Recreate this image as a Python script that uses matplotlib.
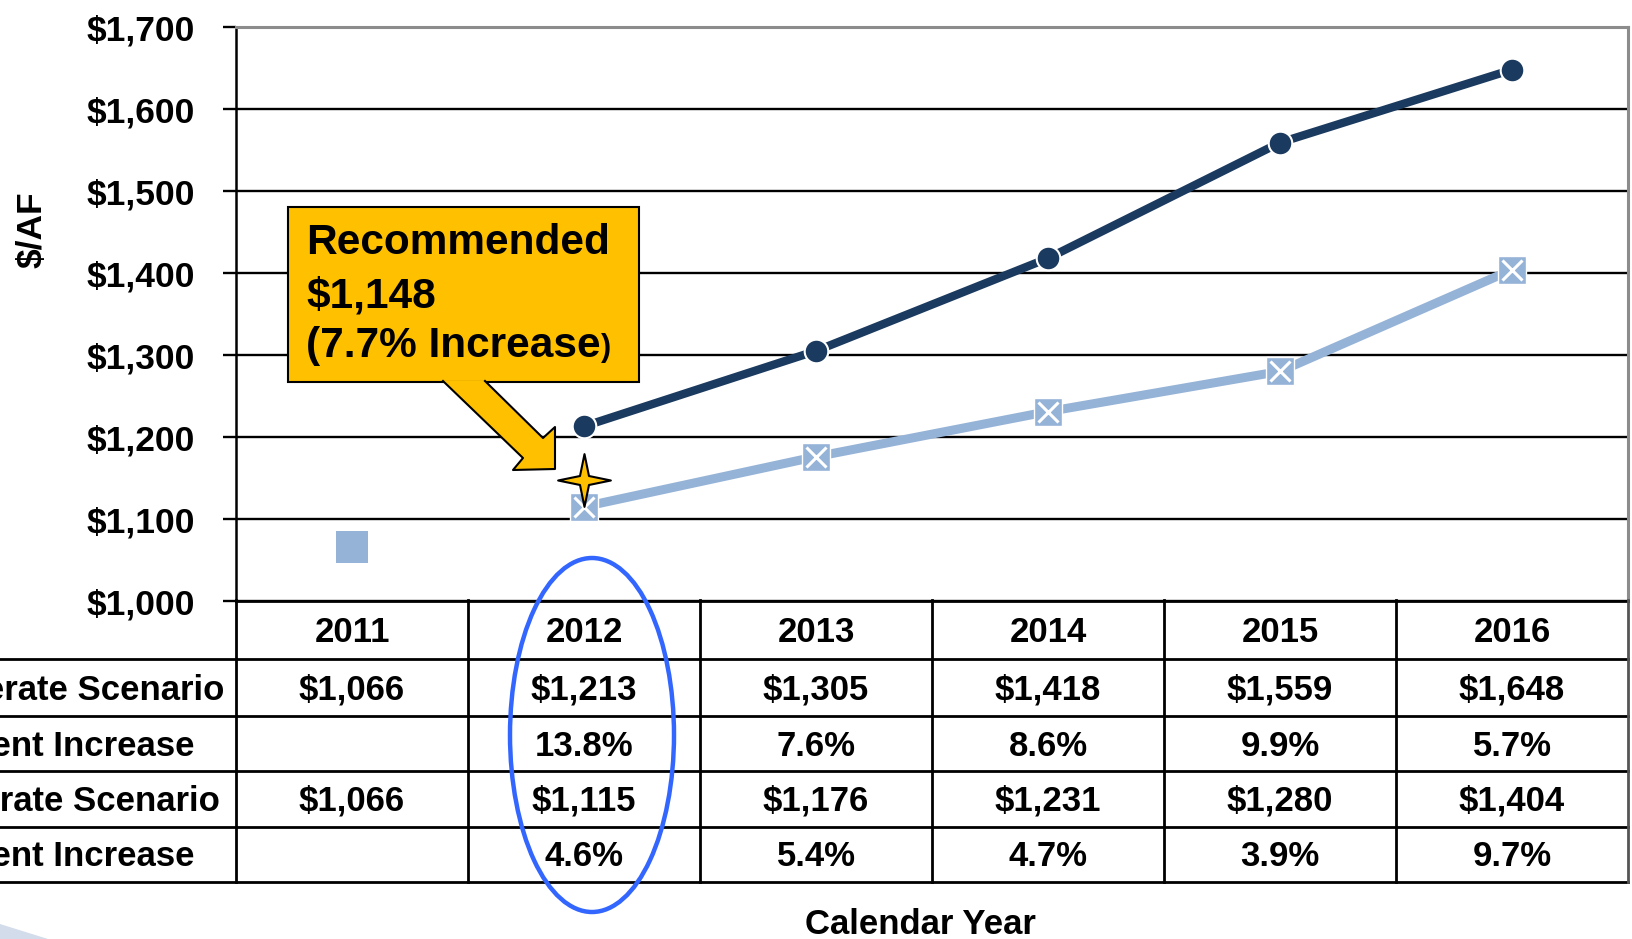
import matplotlib
matplotlib.use("Agg")
import matplotlib.pyplot as plt
from matplotlib.patches import Ellipse, Polygon, Rectangle
from matplotlib.path import Path
from matplotlib.lines import Line2D
from matplotlib.ticker import FuncFormatter
import matplotlib.transforms as mtransforms

# ---------------- data ----------------
years = [2011, 2012, 2013, 2014, 2015, 2016]
high_years = [2012, 2013, 2014, 2015, 2016]
high_values = [1213, 1305, 1418, 1559, 1648]
low_years = [2012, 2013, 2014, 2015, 2016]
low_values = [1115, 1176, 1231, 1280, 1404]
actual_year = [2011]
actual_value = [1066]
rec_year = [2012]
rec_value = [1148]
yticks = [1000, 1100, 1200, 1300, 1400, 1500, 1600, 1700]
row_labels = ["Accelerate Scenario", "Percent Increase", "Moderate Scenario", "Percent Increase"]
row_high = ["$1,066", "$1,213", "$1,305", "$1,418", "$1,559", "$1,648"]
row_high_pct = ["", "13.8%", "7.6%", "8.6%", "9.9%", "5.7%"]
row_low = ["$1,066", "$1,115", "$1,176", "$1,231", "$1,280", "$1,404"]
row_low_pct = ["", "4.6%", "5.4%", "4.7%", "3.9%", "9.7%"]
callout_lines = ["Recommended", "$1,148", "(7.7% Increase"]

# ---------------- style ----------------
plt.rcParams['font.family'] = ['Liberation Sans', 'DejaVu Sans']
plt.rcParams['font.weight'] = 'bold'
DARK = '#1B3A5F'
LIGHT = '#95B3D7'
GOLD = '#FFC000'
W, H = 1633, 939
FS = 25

fig = plt.figure(figsize=(W / 100, H / 100), dpi=100)
fig.patch.set_facecolor('white')

# main chart axes
ax = fig.add_axes([236 / W, 1 - 601 / H, (1628 - 236) / W, (601 - 27) / H])
ax.set_xlim(2010.5, 2016.5)
ax.set_ylim(1000, 1700)
ax.set_yticks(yticks)
ax.yaxis.set_major_formatter(FuncFormatter(lambda v, p: "${:,.0f}".format(v)))
ax.yaxis.grid(True, color='black', lw=1.7)
ax.set_axisbelow(True)
for s in ['top', 'right']:
    ax.spines[s].set_color('#8C8C8C')
    ax.spines[s].set_linewidth(2.2)
ax.spines['left'].set_color('black')
ax.spines['left'].set_linewidth(1.8)
ax.spines['bottom'].set_color('black')
ax.spines['bottom'].set_linewidth(2.0)
ax.tick_params(axis='y', direction='out', length=9.5, width=1.7, pad=20, labelsize=25.5)
ax.tick_params(axis='x', bottom=False, labelbottom=False)
for lab in ax.get_yticklabels():
    lab.set_fontweight('bold')

ax.plot(low_years, low_values, color=LIGHT, lw=6.5, marker='s', ms=20,
        mfc=LIGHT, mec='white', mew=1.0, zorder=4, solid_capstyle='round')
ax.plot(low_years, low_values, ls='none', marker='x', ms=14, mec='white', mew=2.2, zorder=4.5)
ax.plot(high_years, high_values, color=DARK, lw=6, marker='o', ms=17,
        mfc=DARK, mec='white', mew=1.5, zorder=5, solid_capstyle='round')
ax.plot(actual_year, actual_value, ls='none', marker='s', ms=23, color=LIGHT, mew=0, zorder=4)

star = Path([(0, 1), (0.17, 0.17), (1, 0), (0.17, -0.17), (0, -1), (-0.17, -0.17),
             (-1, 0), (-0.17, 0.17), (0, 1)],
            [Path.MOVETO] + [Path.LINETO] * 7 + [Path.CLOSEPOLY])
ax.plot(rec_year, rec_value, ls='none', marker=star, ms=38, mfc=GOLD, mec='black',
        mew=1.5, zorder=6, clip_on=False)

# y label and x label
fig.text(32 / W, 1 - 230 / H, "$/AF", rotation=90, fontsize=25.5, fontweight='bold',
         ha='center', va='center')
fig.text(920 / W, 1 - 925 / H, "Calendar Year", fontsize=25, fontweight='bold',
         ha='center', va='center')

# ---------------- table ----------------
tax = fig.add_axes([236 / W, 1 - 882 / H, (1628 - 236) / W, (882 - 600) / H])
tax.set_xlim(2010.5, 2016.5)
tax.set_ylim(282, 0)
tax.axis('off')
row_edges = [0, 59, 116, 171, 227, 282]
blend = mtransforms.blended_transform_factory(fig.transFigure, tax.transData)
for e in row_edges[1:]:
    tax.add_line(Line2D([0, 1628 / W], [e, e], transform=blend, color='black', lw=2.0,
                        clip_on=False))
col_edges = [y - 0.5 for y in years] + [years[-1] + 0.5]
for i, c in enumerate(col_edges):
    col = '#555555' if i == len(col_edges) - 1 else 'black'
    tax.plot([c, c], [0, 282], color=col, lw=2.0, clip_on=False)

centers = [(row_edges[i] + row_edges[i + 1]) / 2 for i in range(5)]
rows = [[str(y) for y in years], row_high, row_high_pct, row_low, row_low_pct]
for r, vals in enumerate(rows):
    for x, v in zip(years, vals):
        if v:
            tax.text(x, centers[r] + 2.5, v, ha='center', va='center', fontsize=FS,
                     fontweight='bold')
label_right = [224.5, 194.5, 219.5, 194.5]
for r, (lab, xr) in enumerate(zip(row_labels, label_right)):
    tax.text(xr / W, centers[r + 1] + 2.5, lab, transform=blend, ha='right', va='center',
             fontsize=FS, fontweight='bold', clip_on=False)

# ---------------- overlay: callout, arrow, ellipse ----------------
ov = fig.add_axes([0, 0, 1, 1], zorder=10)
ov.set_xlim(0, W)
ov.set_ylim(H, 0)
ov.axis('off')
ov.patch.set_alpha(0)

ov.add_patch(Rectangle((288, 207), 351, 175, fc=GOLD, ec='black', lw=1.5))
arrow_pts = [(443, 381), (485, 381), (543, 438), (555, 427), (555, 469), (513, 470), (523, 458)]
ov.add_patch(Polygon(arrow_pts, closed=True, fc=GOLD, ec='none'))
edge = arrow_pts[1:] + [arrow_pts[0]]
ov.plot([p[0] for p in edge], [p[1] for p in edge], color='black', lw=1.5)

ys = [243, 296, 346]
txt = None
for line, yy in zip(callout_lines, ys):
    txt = ov.text(306, yy, line, fontsize=30.5, fontweight='bold', ha='left', va='center')
ov.annotate(")", xy=(1, 0.08), xycoords=txt, fontsize=22, fontweight='bold',
            ha='left', va='bottom')

ov.add_patch(Ellipse((592, 735), 164, 354, fill=False, ec='#3366FF', lw=3.2))
ov.add_patch(Polygon([(0, 924), (48, 939), (0, 939)], closed=True, fc='#D3DCEA', ec='none'))

fig.savefig("out.png", dpi=100)
